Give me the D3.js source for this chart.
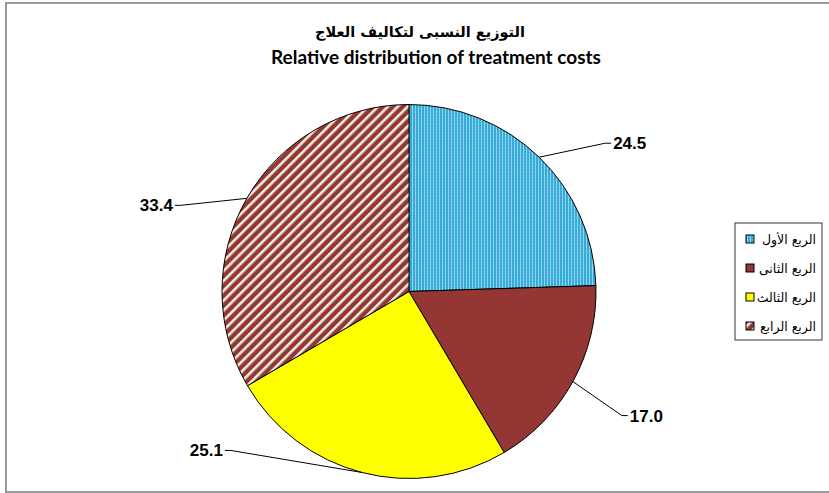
<!DOCTYPE html>
<html>
<head>
<meta charset="utf-8">
<script src="https://cdn.jsdelivr.net/npm/d3@7"></script>
<style>
  body { margin: 0; background: #fff; }
  text { font-family: "Liberation Sans", Arial, "DejaVu Sans", sans-serif; }
</style>
</head>
<body>
<div id="chart"></div>
<script>
// data
var quarters = ["الربع الأول", "الربع الثانى", "الربع الثالث", "الربع الرابع"];
var shares = [24.5, 17.0, 25.1, 33.4];
var titleAr = "التوزيع النسبى لتكاليف العلاج";
var titleEn = "Relative distribution of treatment costs";

// layout / style
var width = 829, height = 493;
var cx = 409, cy = 291.5, radius = 187;
var fills = ["url(#dots)", "#943634", "#ffff00", "url(#stripes)"];
// label position relative to arc midpoint (leader end), layout only
var leaderEnd = [[66, -14], [49, 34], [-131, -22], [-66, 7]];

var svg = d3.select("#chart").append("svg")
    .attr("width", width)
    .attr("height", height);

var defs = svg.append("defs");

var dots = defs.append("pattern")
    .attr("id", "dots")
    .attr("patternUnits", "userSpaceOnUse")
    .attr("width", 3).attr("height", 3);
dots.append("rect").attr("width", 3).attr("height", 3).attr("fill", "#36abd8");
dots.append("rect").attr("width", 1).attr("height", 3).attr("fill", "#7fcdec");
dots.append("rect").attr("width", 1).attr("height", 1).attr("fill", "#b5e3f5");

var stripes = defs.append("pattern")
    .attr("id", "stripes")
    .attr("patternUnits", "userSpaceOnUse")
    .attr("width", 7).attr("height", 7)
    .attr("patternTransform", "rotate(45)");
stripes.append("rect").attr("width", 7).attr("height", 7).attr("fill", "#943634");
stripes.append("rect").attr("width", 2.6).attr("height", 7).attr("fill", "#efeedd");

// frame
svg.append("rect")
    .attr("x", 6).attr("y", 3)
    .attr("width", 840).attr("height", 489)
    .attr("fill", "none")
    .attr("stroke", "#9a9a9a")
    .attr("stroke-width", 2);

// titles
svg.append("text")
    .attr("x", 420).attr("y", 37)
    .attr("text-anchor", "middle")
    .style("font-family", "'DejaVu Sans', sans-serif")
    .style("font-weight", "bold")
    .style("font-size", "14.5px")
    .text(titleAr);

svg.append("text")
    .attr("x", 436).attr("y", 64)
    .attr("text-anchor", "middle")
    .style("font-family", "Lato, sans-serif")
    .style("font-weight", "bold")
    .style("font-size", "19px")
    .text(titleEn);

// pie
var pie = d3.pie().sort(null).value(function(d){ return d; });
var arc = d3.arc().innerRadius(0).outerRadius(radius);
var arcs = pie(shares);

var g = svg.append("g").attr("transform", "translate(" + cx + "," + cy + ")");

g.selectAll(".slice")
    .data(arcs)
    .enter().append("path")
    .attr("class", "slice")
    .attr("d", arc)
    .attr("fill", function(d, i){ return fills[i]; })
    .attr("stroke", "#000")
    .attr("stroke-width", 1);

// leader lines and labels
function edgePoint(d) {
  var a = (d.startAngle + d.endAngle) / 2;
  return [radius * Math.sin(a), -radius * Math.cos(a)];
}

arcs.forEach(function(d, i) {
  var p = edgePoint(d);
  var e = [p[0] + leaderEnd[i][0], p[1] + leaderEnd[i][1]];
  var right = e[0] > 0;
  var pts = [p, e, [e[0] + (right ? 6 : -6), e[1]]];
  g.append("path")
    .attr("d", d3.line()(pts))
    .attr("fill", "none")
    .attr("stroke", "#000")
    .attr("stroke-width", 1);
  g.append("text")
    .attr("x", e[0] + (right ? 8 : -8))
    .attr("y", e[1] + 6)
    .attr("text-anchor", right ? "start" : "end")
    .style("font-weight", "bold")
    .style("font-size", "17px")
    .text(d3.format(".1f")(d.data));
});

// legend
var legend = svg.append("g").attr("transform", "translate(735,223)");
legend.append("rect")
    .attr("width", 87).attr("height", 117)
    .attr("fill", "#fff")
    .attr("stroke", "#333")
    .attr("stroke-width", 1);

var item = legend.selectAll(".item")
    .data(quarters)
    .enter().append("g")
    .attr("class", "item")
    .attr("transform", function(d, i){ return "translate(0," + (16 + i * 29) + ")"; });

item.append("rect")
    .attr("x", 11).attr("y", -4)
    .attr("width", 8).attr("height", 8)
    .attr("fill", function(d, i){ return fills[i]; })
    .attr("stroke", "#000")
    .attr("stroke-width", 1);

item.append("text")
    .attr("x", 81).attr("y", 5)
    .attr("text-anchor", "end")
    .style("font-size", "12.5px")
    .style("font-family", "'DejaVu Sans', sans-serif")
    .text(function(d){ return d; });
</script>
</body>
</html>
